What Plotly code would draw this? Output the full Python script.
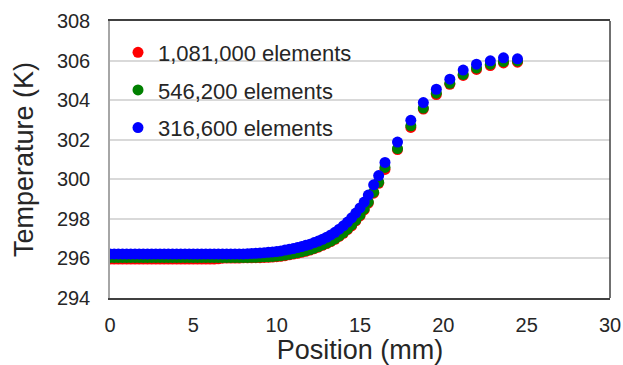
import plotly.graph_objects as go

# Position (mm)
x_pos = [0.0, 0.25, 0.5, 0.75, 1.0, 1.25, 1.5, 1.75, 2.0, 2.25, 2.5, 2.75, 3.0, 3.25, 3.5, 3.75,
         4.0, 4.25, 4.5, 4.75, 5.0, 5.25, 5.5, 5.75, 6.0, 6.25, 6.5, 6.75, 7.0, 7.25, 7.5, 7.75,
         8.0, 8.25, 8.5, 8.75, 9.0, 9.25, 9.5, 9.75, 10.0, 10.25, 10.5, 10.75, 11.0, 11.25, 11.5, 11.75,
         12.0, 12.25, 12.5, 12.75, 13.0, 13.25, 13.5, 13.75, 14.0, 14.25, 14.5, 14.75, 15.0,
         15.25, 15.5, 15.82, 16.12, 16.5,
         17.25, 18.05, 18.8, 19.58, 20.39, 21.19, 21.99, 22.82, 23.61, 24.45]

# Temperature (K), 1,081,000 elements
t_fine = [295.97, 295.97, 295.97, 295.97, 295.97, 295.97, 295.97, 295.97, 295.97, 295.97, 295.97, 295.97, 295.97, 295.97, 295.97, 295.97,
          295.97, 295.97, 295.97, 295.97, 295.97, 295.97, 295.97, 295.97, 295.97, 295.97, 295.98, 296.01, 296.02, 296.02, 296.02, 296.02,
          296.03, 296.03, 296.03, 296.04, 296.04, 296.05, 296.06, 296.07, 296.09, 296.11, 296.14, 296.18, 296.22, 296.26, 296.31, 296.36,
          296.42, 296.49, 296.57, 296.66, 296.75, 296.85, 296.97, 297.11, 297.27, 297.46, 297.65, 297.9, 298.15,
          298.45, 298.8, 299.3, 299.8, 300.5,
          301.5, 302.62, 303.55, 304.28, 304.8, 305.25, 305.55, 305.75, 305.88, 305.92]

# Temperature (K), 546,200 elements
t_mid = [296.05, 296.05, 296.05, 296.05, 296.05, 296.05, 296.05, 296.05, 296.05, 296.05, 296.05, 296.05, 296.05, 296.05, 296.05, 296.05,
         296.05, 296.05, 296.05, 296.05, 296.05, 296.05, 296.05, 296.05, 296.05, 296.05, 296.05, 296.05, 296.05, 296.05, 296.05, 296.05,
         296.05, 296.05, 296.06, 296.06, 296.07, 296.08, 296.09, 296.1, 296.12, 296.14, 296.17, 296.21, 296.25, 296.29, 296.34, 296.39,
         296.45, 296.52, 296.6, 296.69, 296.78, 296.88, 297.0, 297.14, 297.3, 297.49, 297.7, 297.94, 298.2,
         298.5, 298.85, 299.35, 299.85, 300.6,
         301.55, 302.7, 303.6, 304.35, 304.85, 305.3, 305.62, 305.82, 305.95, 305.98]

# Temperature (K), 316,600 elements
t_coarse = [296.23, 296.23, 296.23, 296.23, 296.23, 296.23, 296.23, 296.23, 296.23, 296.23, 296.23, 296.23, 296.23, 296.23, 296.23, 296.23,
            296.23, 296.23, 296.23, 296.23, 296.23, 296.23, 296.23, 296.23, 296.23, 296.23, 296.23, 296.23, 296.23, 296.23, 296.23, 296.23,
            296.23, 296.24, 296.25, 296.26, 296.27, 296.29, 296.31, 296.33, 296.35, 296.38, 296.42, 296.46, 296.5, 296.55, 296.6, 296.66,
            296.72, 296.8, 296.88, 296.97, 297.07, 297.19, 297.32, 297.48, 297.65, 297.84, 298.05, 298.29, 298.55,
            298.85, 299.2, 299.72, 300.19, 300.85,
            301.88, 302.98, 303.88, 304.55, 305.06, 305.52, 305.82, 305.99, 306.14, 306.09]

series_names = ["1,081,000 elements", "546,200 elements", "316,600 elements"]
series_values = [t_fine, t_mid, t_coarse]
series_colors = ["#ff0000", "#008000", "#0000ff"]

x_ticks = [0, 5, 10, 15, 20, 25, 30]
y_ticks = [294, 296, 298, 300, 302, 304, 306, 308]

FONT = "Liberation Sans, Arial, sans-serif"

fig = go.Figure()
for i, (name, vals, col) in enumerate(zip(series_names, series_values, series_colors)):
    fig.add_trace(go.Scatter(
        x=x_pos, y=vals, mode="markers", name=name, legendgroup=f"g{i}",
        marker=dict(color=col, size=11, line=dict(width=0)),
    ))

fig.update_layout(
    width=623, height=365, autosize=False,
    margin=dict(l=110, r=13, t=21, b=67),
    paper_bgcolor="white", plot_bgcolor="white",
    font=dict(family=FONT, color="#262626"),
    showlegend=True,
    legend=dict(x=0.016, y=0.962, xanchor="left", yanchor="top",
                bgcolor="rgba(0,0,0,0)", font=dict(size=22, family=FONT, color="#262626"),
                tracegroupgap=6, itemwidth=30),
    xaxis=dict(range=[0, 30], tickvals=x_ticks, showgrid=False, zeroline=False, automargin=False,
               showline=True, linecolor="#404040", linewidth=1.5, mirror=True,
               ticks="", tickfont=dict(size=20, family=FONT, color="#262626"),
               ticklabelstandoff=8,
               title=dict(text="Position (mm)", font=dict(size=27, family=FONT, color="#262626"), standoff=8)),
    yaxis=dict(range=[294, 308], tickvals=y_ticks, showgrid=True, gridcolor="#d9d9d9", gridwidth=1.5,
               zeroline=False, showline=True, linecolor="#a6a6a6", linewidth=1.5, automargin=False,
               ticks="", tickfont=dict(size=20, family=FONT, color="#262626"),
               ticklabelstandoff=14,
               title=dict(text="Temperature (K)", font=dict(size=27, family=FONT, color="#262626"), standoff=15)),
    shapes=[dict(type="line", xref="paper", yref="paper", x0=1, x1=1, y0=0, y1=1,
                 line=dict(color="#404040", width=1.5))],
)

fig.write_html("out.html",
               config={"displayModeBar": False},
               post_script="document.body.style.margin='0';document.body.style.overflow='hidden';")
